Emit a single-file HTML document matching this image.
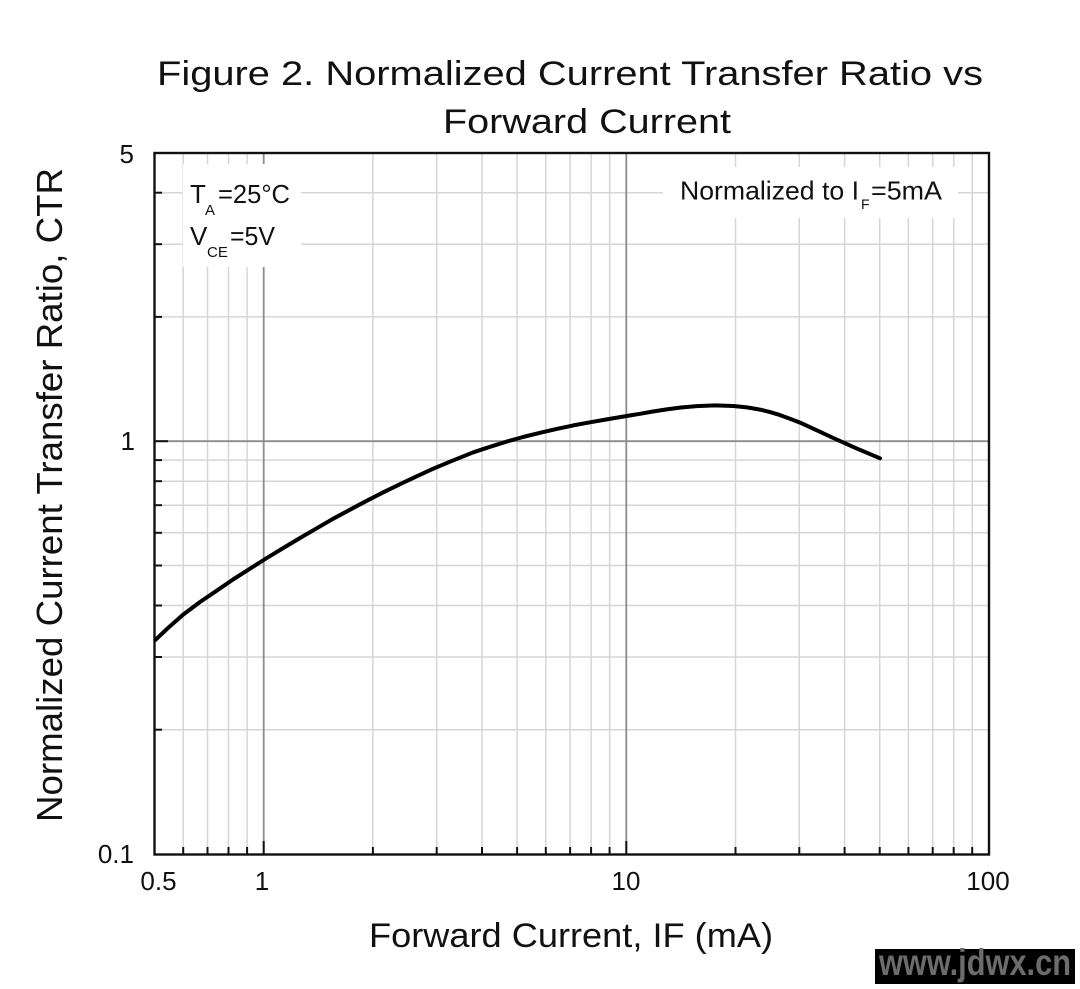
<!DOCTYPE html>
<html>
<head>
<meta charset="utf-8">
<style>
  html,body{margin:0;padding:0;background:#fff;}
  svg{display:block;}
  text{font-family:"Liberation Sans",Arial,sans-serif;fill:#111;}
</style>
</head>
<body>
<svg width="1080" height="989" viewBox="0 0 1080 989" xmlns="http://www.w3.org/2000/svg">
  <rect x="0" y="0" width="1080" height="989" fill="#fff"/>

  <!-- minor vertical gridlines -->
  <g stroke="#d6d6d6" stroke-width="1.5">
    <line x1="183.2" y1="153" x2="183.2" y2="854"/>
    <line x1="207.5" y1="153" x2="207.5" y2="854"/>
    <line x1="228.5" y1="153" x2="228.5" y2="854"/>
    <line x1="247.1" y1="153" x2="247.1" y2="854"/>
    <line x1="372.9" y1="153" x2="372.9" y2="854"/>
    <line x1="436.7" y1="153" x2="436.7" y2="854"/>
    <line x1="482.0" y1="153" x2="482.0" y2="854"/>
    <line x1="517.1" y1="153" x2="517.1" y2="854"/>
    <line x1="545.8" y1="153" x2="545.8" y2="854"/>
    <line x1="570.1" y1="153" x2="570.1" y2="854"/>
    <line x1="591.1" y1="153" x2="591.1" y2="854"/>
    <line x1="609.6" y1="153" x2="609.6" y2="854"/>
    <line x1="735.5" y1="153" x2="735.5" y2="854"/>
    <line x1="799.3" y1="153" x2="799.3" y2="854"/>
    <line x1="844.6" y1="153" x2="844.6" y2="854"/>
    <line x1="879.7" y1="153" x2="879.7" y2="854"/>
    <line x1="908.4" y1="153" x2="908.4" y2="854"/>
    <line x1="932.7" y1="153" x2="932.7" y2="854"/>
    <line x1="953.7" y1="153" x2="953.7" y2="854"/>
    <line x1="972.2" y1="153" x2="972.2" y2="854"/>
  </g>
  <!-- minor horizontal gridlines -->
  <g stroke="#d6d6d6" stroke-width="1.5">
    <line x1="155" y1="729.7" x2="989" y2="729.7"/>
    <line x1="155" y1="657.0" x2="989" y2="657.0"/>
    <line x1="155" y1="605.5" x2="989" y2="605.5"/>
    <line x1="155" y1="565.5" x2="989" y2="565.5"/>
    <line x1="155" y1="532.8" x2="989" y2="532.8"/>
    <line x1="155" y1="505.2" x2="989" y2="505.2"/>
    <line x1="155" y1="481.2" x2="989" y2="481.2"/>
    <line x1="155" y1="460.1" x2="989" y2="460.1"/>
    <line x1="155" y1="316.9" x2="989" y2="316.9"/>
    <line x1="155" y1="244.2" x2="989" y2="244.2"/>
    <line x1="155" y1="192.7" x2="989" y2="192.7"/>
  </g>
  <!-- major gridlines -->
  <g stroke="#8c8c8c" stroke-width="1.8">
    <line x1="263.7" y1="153" x2="263.7" y2="854"/>
    <line x1="626.3" y1="153" x2="626.3" y2="854"/>
    <line x1="155" y1="441.2" x2="989" y2="441.2"/>
  </g>

  <!-- annotation backgrounds -->
  <rect x="183" y="164" width="118" height="103" fill="#fff"/>
  <rect x="663" y="167" width="295" height="51" fill="#fff"/>

  <!-- ticks left -->
  <g stroke="#111" stroke-width="2">
    <line x1="155" y1="729.7" x2="162" y2="729.7"/>
    <line x1="155" y1="657.0" x2="162" y2="657.0"/>
    <line x1="155" y1="605.5" x2="162" y2="605.5"/>
    <line x1="155" y1="565.5" x2="162" y2="565.5"/>
    <line x1="155" y1="532.8" x2="162" y2="532.8"/>
    <line x1="155" y1="505.2" x2="162" y2="505.2"/>
    <line x1="155" y1="481.2" x2="162" y2="481.2"/>
    <line x1="155" y1="460.1" x2="162" y2="460.1"/>
    <line x1="155" y1="441.2" x2="168" y2="441.2"/>
    <line x1="155" y1="316.9" x2="162" y2="316.9"/>
    <line x1="155" y1="244.2" x2="162" y2="244.2"/>
    <line x1="155" y1="192.7" x2="162" y2="192.7"/>
  </g>
  <!-- ticks bottom -->
  <g stroke="#111" stroke-width="2">
    <line x1="183.2" y1="854" x2="183.2" y2="847"/>
    <line x1="207.5" y1="854" x2="207.5" y2="847"/>
    <line x1="228.5" y1="854" x2="228.5" y2="847"/>
    <line x1="247.1" y1="854" x2="247.1" y2="847"/>
    <line x1="263.7" y1="854" x2="263.7" y2="841"/>
    <line x1="372.9" y1="854" x2="372.9" y2="847"/>
    <line x1="436.7" y1="854" x2="436.7" y2="847"/>
    <line x1="482.0" y1="854" x2="482.0" y2="847"/>
    <line x1="517.1" y1="854" x2="517.1" y2="847"/>
    <line x1="545.8" y1="854" x2="545.8" y2="847"/>
    <line x1="570.1" y1="854" x2="570.1" y2="847"/>
    <line x1="591.1" y1="854" x2="591.1" y2="847"/>
    <line x1="609.6" y1="854" x2="609.6" y2="847"/>
    <line x1="626.3" y1="854" x2="626.3" y2="841"/>
    <line x1="735.5" y1="854" x2="735.5" y2="847"/>
    <line x1="799.3" y1="854" x2="799.3" y2="847"/>
    <line x1="844.6" y1="854" x2="844.6" y2="847"/>
    <line x1="879.7" y1="854" x2="879.7" y2="847"/>
    <line x1="908.4" y1="854" x2="908.4" y2="847"/>
    <line x1="932.7" y1="854" x2="932.7" y2="847"/>
    <line x1="953.7" y1="854" x2="953.7" y2="847"/>
    <line x1="972.2" y1="854" x2="972.2" y2="847"/>
  </g>

  <!-- plot frame -->
  <rect x="154.5" y="153" width="834.5" height="701.5" fill="none" stroke="#111" stroke-width="2.4"/>

  <!-- curve -->
  <polyline fill="none" stroke="#000" stroke-width="4" stroke-linejoin="round" stroke-linecap="round"
    points="155.5,639.8 168,628 183.3,614.5 200,602 216.7,590.7 233,579.5 250,568.7 266,558.5 283.3,548 300,538 316.7,528.3 333,518.8 350,509.7 366.7,500.8 383.3,492.3 400,484.2 416.7,476.3 433,468.8 450,461.7 473.3,452.3 490,446.8 506.7,441.6 523,437 540,432.8 556.7,428.9 573.3,425.4 590,422.3 606.7,419.4 623,416.6 640,413.8 653,411.5 666.7,409.4 681,407.5 696.7,406.1 715,405.4 733.3,406 747,407.4 760,409.6 770,412.1 780,415.1 790,418.7 800,422.6 816,429.9 833.3,438 856,448.2 880,458.3"/>

  <!-- title -->
  <text x="157" y="85" font-size="34" textLength="826" lengthAdjust="spacingAndGlyphs">Figure 2. Normalized Current Transfer Ratio vs</text>
  <text x="443" y="133" font-size="34" textLength="288" lengthAdjust="spacingAndGlyphs">Forward Current</text>

  <!-- axis labels -->
  <text x="369" y="947" font-size="34.5" textLength="404" lengthAdjust="spacingAndGlyphs">Forward Current, IF (mA)</text>
  <text transform="translate(62,822) rotate(-90)" x="0" y="0" font-size="36" textLength="654" lengthAdjust="spacingAndGlyphs">Normalized Current Transfer Ratio, CTR</text>

  <!-- y tick labels -->
  <text x="134" y="163" font-size="26" text-anchor="end">5</text>
  <text x="135" y="450" font-size="26" text-anchor="end">1</text>
  <text x="134" y="863" font-size="26" text-anchor="end">0.1</text>

  <!-- x tick labels -->
  <text x="158.5" y="890" font-size="26" text-anchor="middle">0.5</text>
  <text x="262" y="890" font-size="26" text-anchor="middle">1</text>
  <text x="626" y="890" font-size="26" text-anchor="middle">10</text>
  <text x="988" y="890" font-size="26" text-anchor="middle">100</text>

  <!-- left annotation -->
  <text x="190" y="203" font-size="26">T</text>
  <text x="205" y="215" font-size="15">A</text>
  <text x="218" y="203" font-size="26" textLength="72" lengthAdjust="spacingAndGlyphs">=25°C</text>
  <text x="190" y="245" font-size="26">V</text>
  <text x="207" y="257" font-size="15">CE</text>
  <text x="230" y="245" font-size="26" textLength="45" lengthAdjust="spacingAndGlyphs">=5V</text>

  <!-- right annotation -->
  <text x="680" y="199.5" font-size="26" textLength="179" lengthAdjust="spacingAndGlyphs">Normalized to I</text>
  <text x="861" y="209" font-size="14">F</text>
  <text x="871" y="199.5" font-size="26" textLength="71" lengthAdjust="spacingAndGlyphs">=5mA</text>

  <!-- watermark -->
  <rect x="875" y="949" width="200" height="35" fill="#000"/>
  <text x="879" y="975" font-size="37" font-weight="bold" style="fill:#6c6c6c" textLength="192" lengthAdjust="spacingAndGlyphs">www.jdwx.cn</text>
</svg>
</body>
</html>
